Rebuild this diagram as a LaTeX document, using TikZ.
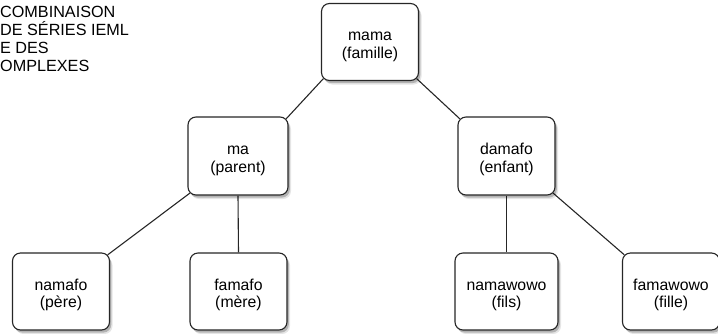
\documentclass[tikz,border=0pt]{standalone}
\usepackage{fontspec}
\setmainfont{Liberation Sans}
\usetikzlibrary{shadows,backgrounds,calc}
\newcommand{\topstrut}{\rule{0pt}{18.5pt}}
\begin{document}
\begin{tikzpicture}[x=1pt,y=-1pt,
  box/.style={draw=black!85, line width=1.1pt, fill=white, rounded corners=8pt,
    minimum width=97pt, minimum height=77pt, align=center, inner sep=0pt,
    font=\fontsize{15.8}{17.3}\selectfont,
    drop shadow={shadow xshift=3pt, shadow yshift=-4pt, opacity=0.10, fill=black},
    drop shadow={shadow xshift=1.8pt, shadow yshift=-2.6pt, opacity=0.22, fill=black}},
  link/.style={draw=black!85, line width=1.1pt},
  toptext/.style={anchor=base west, inner sep=0pt, font=\fontsize{16.2}{18}\selectfont}]
\useasboundingbox (0,0) rectangle (718,333);
\node[box] (mama) at (370,42) {\topstrut mama\\(famille)};
\node[box, minimum width=100pt, minimum height=78pt] (ma) at (238,156) {\topstrut ma\\(parent)};
\node[box, minimum height=78pt] (damafo) at (506.5,156) {\topstrut damafo\\(enfant)};
\node[box] (namafo) at (61,291.5) {\topstrut namafo\\(père)};
\node[box] (famafo) at (238.5,291.5) {\topstrut famafo\\(mère)};
\node[box, minimum width=103pt] (namawowo) at (506.5,291.5) {\topstrut namawowo\\(fils)};
\node[box] (famawowo) at (671,291.5) {\topstrut famawowo\\(fille)};
\begin{scope}[on background layer]
\draw[link] ($(mama.south west)+(2.4,-2.4)$) -- ($(ma.north east)+(-2.4,2.4)$);
\draw[link] ($(mama.south east)+(-2.4,-2.4)$) -- ($(damafo.north west)+(2.4,2.4)$);
\draw[link] ($(ma.south west)+(2.4,-2.4)$) -- ($(namafo.north east)+(-2.4,2.4)$);
\draw[link] (ma.south) -- (famafo.north);
\draw[link] (damafo.south) -- (namawowo.north);
\draw[link] ($(damafo.south east)+(-2.4,-2.4)$) -- ($(famawowo.north west)+(2.4,2.4)$);
\end{scope}
\node[toptext] (t1) at (0,17) {COMBINAISON};
\node[toptext] (t2) at (0,35) {DE SÉRIES IEML};
\node[toptext] (t3) at (0,53) {E DES};
\node[toptext] (t4) at (0,71) {OMPLEXES};
\end{tikzpicture}
\end{document}
